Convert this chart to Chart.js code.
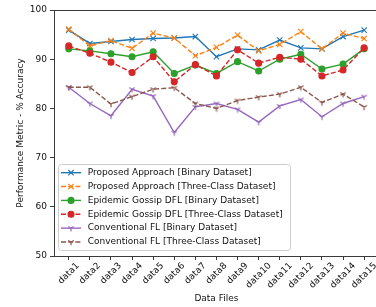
<!DOCTYPE html>
<html><head><meta charset="utf-8">
<script src="https://cdn.jsdelivr.net/npm/chart.js@4/dist/chart.umd.min.js"></script>
<style>
html,body{margin:0;padding:0;overflow:hidden;background:#fff;width:376px;height:307px}
#wrap{position:relative;width:384px;height:307px}
canvas{display:block}
</style></head>
<body><div id="wrap"><canvas id="c" width="384" height="307" style="width:384px;height:307px"></canvas></div>
<script>
const categories = ['data1','data2','data3','data4','data5','data6','data7','data8','data9','data10','data11','data12','data13','data14','data15'];
const proposedBinary     = [95.9, 93.2, 93.6, 94.0, 94.2, 94.3, 94.6, 90.5, 92.1, 91.9, 93.9, 92.3, 92.1, 94.6, 95.9];
const proposedThreeClass = [96.1, 92.7, 93.8, 92.2, 95.3, 94.3, 90.7, 92.4, 94.9, 91.7, 93.0, 95.6, 92.1, 95.3, 94.2];
const gossipBinary       = [92.1, 91.7, 91.1, 90.5, 91.5, 87.1, 88.8, 87.1, 89.5, 87.6, 90.0, 91.0, 88.0, 89.0, 92.1];
const gossipThreeClass   = [92.7, 91.2, 89.4, 87.3, 90.5, 85.4, 88.9, 86.6, 91.9, 89.2, 90.4, 90.0, 86.6, 87.8, 92.3];
const convBinary         = [84.3, 81.0, 78.5, 83.9, 82.5, 75.1, 80.3, 81.0, 79.8, 77.2, 80.5, 81.8, 78.3, 81.0, 82.4];
const convThreeClass     = [84.3, 84.3, 80.9, 82.4, 83.9, 84.2, 81.0, 80.0, 81.6, 82.3, 82.9, 84.3, 81.2, 82.9, 80.3];
const yTicks = [50, 60, 70, 80, 90, 100];
const seriesNames = [
  'Proposed Approach [Binary Dataset]',
  'Proposed Approach [Three-Class Dataset]',
  'Epidemic Gossip DFL [Binary Dataset]',
  'Epidemic Gossip DFL [Three-Class Dataset]',
  'Conventional FL [Binary Dataset]',
  'Conventional FL [Three-Class Dataset]'
];

const FONT = "'DejaVu Sans', sans-serif";
const DASH = [5, 2.2];
const LW = 1.4;

function triDown(color){
  const c = document.createElement('canvas');
  c.width = 10; c.height = 10;
  const g = c.getContext('2d');
  g.strokeStyle = color; g.lineWidth = 1.2; g.lineCap = 'butt';
  const cx = 5, cy = 5, r = 3.2;
  g.beginPath();
  g.moveTo(cx, cy); g.lineTo(cx, cy + r);
  g.moveTo(cx, cy); g.lineTo(cx - r*0.866, cy - r*0.5);
  g.moveTo(cx, cy); g.lineTo(cx + r*0.866, cy - r*0.5);
  g.stroke();
  return c;
}

const styles = [
  {color:'#1f77b4', dash:[], point:'crossRot', radius:3.8},
  {color:'#ff7f0e', dash:DASH, point:'crossRot', radius:3.8},
  {color:'#2ca02c', dash:[], point:'circle', radius:3.0},
  {color:'#d62728', dash:DASH, point:'circle', radius:3.0},
  {color:'#9467bd', dash:[], point:triDown('#9467bd'), radius:3.2},
  {color:'#8c564b', dash:DASH, point:triDown('#8c564b'), radius:3.2}
];
const seriesValues = [proposedBinary, proposedThreeClass, gossipBinary, gossipThreeClass, convBinary, convThreeClass];

const datasets = seriesValues.map((vals, i) => ({
  label: seriesNames[i],
  data: vals.map((v, j) => ({x: j, y: v})),
  borderColor: styles[i].color,
  backgroundColor: styles[i].color,
  pointBackgroundColor: styles[i].color,
  pointBorderColor: styles[i].color,
  borderWidth: LW,
  pointBorderWidth: 1.1,
  borderDash: styles[i].dash,
  pointStyle: styles[i].point,
  pointRadius: styles[i].radius,
  tension: 0,
  fill: false,
  order: 5 - i
}));

function drawMarker(ctx, s, x, y){
  ctx.save();
  ctx.setLineDash([]);
  ctx.strokeStyle = s.color; ctx.fillStyle = s.color; ctx.lineWidth = 1.1;
  if (s.point === 'circle') {
    ctx.beginPath(); ctx.arc(x, y, s.radius, 0, Math.PI*2); ctx.fill(); ctx.stroke();
  } else if (s.point === 'crossRot') {
    const d = s.radius * 0.7071;
    ctx.beginPath();
    ctx.moveTo(x-d, y-d); ctx.lineTo(x+d, y+d);
    ctx.moveTo(x-d, y+d); ctx.lineTo(x+d, y-d);
    ctx.stroke();
  } else {
    ctx.drawImage(s.point, x - s.point.width/2, y - s.point.height/2);
  }
  ctx.restore();
}

const framePlugin = {
  id: 'frame',
  afterDatasetsDraw(chart){
    const {ctx, chartArea: a} = chart;
    ctx.save();
    ctx.strokeStyle = '#3a3a3a'; ctx.lineWidth = 1;
    ctx.strokeRect(Math.round(a.left)+0.5, Math.round(a.top)+0.5, Math.round(a.right-a.left), Math.round(a.bottom-a.top));
    ctx.restore();
  },
  afterDraw(chart){
    const ctx = chart.ctx;
    // x tick labels: rotated 45°, bounding box centred on each tick (matplotlib style)
    const xs = chart.scales.x;
    ctx.save();
    ctx.font = '9px ' + FONT;
    ctx.fillStyle = '#111';
    ctx.textAlign = 'center';
    ctx.textBaseline = 'middle';
    const topY = chart.chartArea.bottom + 5.5;
    categories.forEach((lab, i) => {
      const px = xs.getPixelForValue(i);
      const W = ctx.measureText(lab).width;
      const bh = (W + 8) * 0.7071;
      ctx.save();
      ctx.translate(px, topY + bh / 2);
      ctx.rotate(-Math.PI / 4);
      ctx.fillText(lab, 0, 0);
      ctx.restore();
    });
    ctx.restore();

    // legend
    const x0 = 58.5, y0 = 164.5, w = 232, h = 86, r = 3;
    ctx.save();
    ctx.beginPath();
    ctx.moveTo(x0+r, y0); ctx.lineTo(x0+w-r, y0); ctx.arcTo(x0+w, y0, x0+w, y0+r, r);
    ctx.lineTo(x0+w, y0+h-r); ctx.arcTo(x0+w, y0+h, x0+w-r, y0+h, r);
    ctx.lineTo(x0+r, y0+h); ctx.arcTo(x0, y0+h, x0, y0+h-r, r);
    ctx.lineTo(x0, y0+r); ctx.arcTo(x0, y0, x0+r, y0, r);
    ctx.closePath();
    ctx.fillStyle = 'rgba(255,255,255,0.8)'; ctx.fill();
    ctx.strokeStyle = '#cccccc'; ctx.lineWidth = 1; ctx.stroke();
    ctx.font = '9px ' + FONT;
    ctx.textBaseline = 'middle';
    ctx.textAlign = 'left';
    seriesNames.forEach((name, i) => {
      const y = 172.7 + i * 13.86;
      const s = styles[i];
      ctx.save();
      ctx.strokeStyle = s.color; ctx.lineWidth = LW; ctx.setLineDash(s.dash);
      ctx.beginPath(); ctx.moveTo(61, y); ctx.lineTo(81, y); ctx.stroke();
      ctx.restore();
      drawMarker(ctx, s, 71, y);
      ctx.fillStyle = '#111';
      ctx.fillText(name, 87.7, y);
    });
    ctx.restore();
  }
};

new Chart(document.getElementById('c'), {
  type: 'line',
  data: { datasets },
  options: {
    responsive: false,
    animation: false,
    events: [],
    layout: { padding: { left: 0, right: 1.6, top: 10, bottom: 0 } },
    plugins: { legend: { display: false }, tooltip: { enabled: false } },
    scales: {
      x: {
        type: 'linear',
        min: -0.7, max: 14.7,
        afterBuildTicks: (scale) => { scale.ticks = categories.map((_, i) => ({ value: i })); },
        afterFit: (scale) => { scale.height = 51; },
        ticks: { display: false, autoSkip: false },
        grid: { drawOnChartArea: false, drawTicks: true, tickLength: 4, color: '#3a3a3a' },
        border: { display: false },
        title: { display: true, text: 'Data Files', color: '#111', font: { family: FONT, size: 9 }, padding: { top: 0, bottom: 3 } }
      },
      y: {
        min: 50, max: 100,
        afterBuildTicks: (scale) => { scale.ticks = yTicks.map(v => ({ value: v })); },
        afterFit: (scale) => { scale.width = 54; },
        ticks: { color: '#111', font: { family: FONT, size: 9 }, padding: 3 },
        grid: { drawOnChartArea: false, drawTicks: true, tickLength: 4, color: '#3a3a3a' },
        border: { display: false },
        title: { display: true, text: 'Performance Metric - % Accuracy', color: '#111', font: { family: FONT, size: 9 }, padding: { top: 15, bottom: 0 } }
      }
    }
  },
  plugins: [framePlugin]
});
</script>
</body></html>
